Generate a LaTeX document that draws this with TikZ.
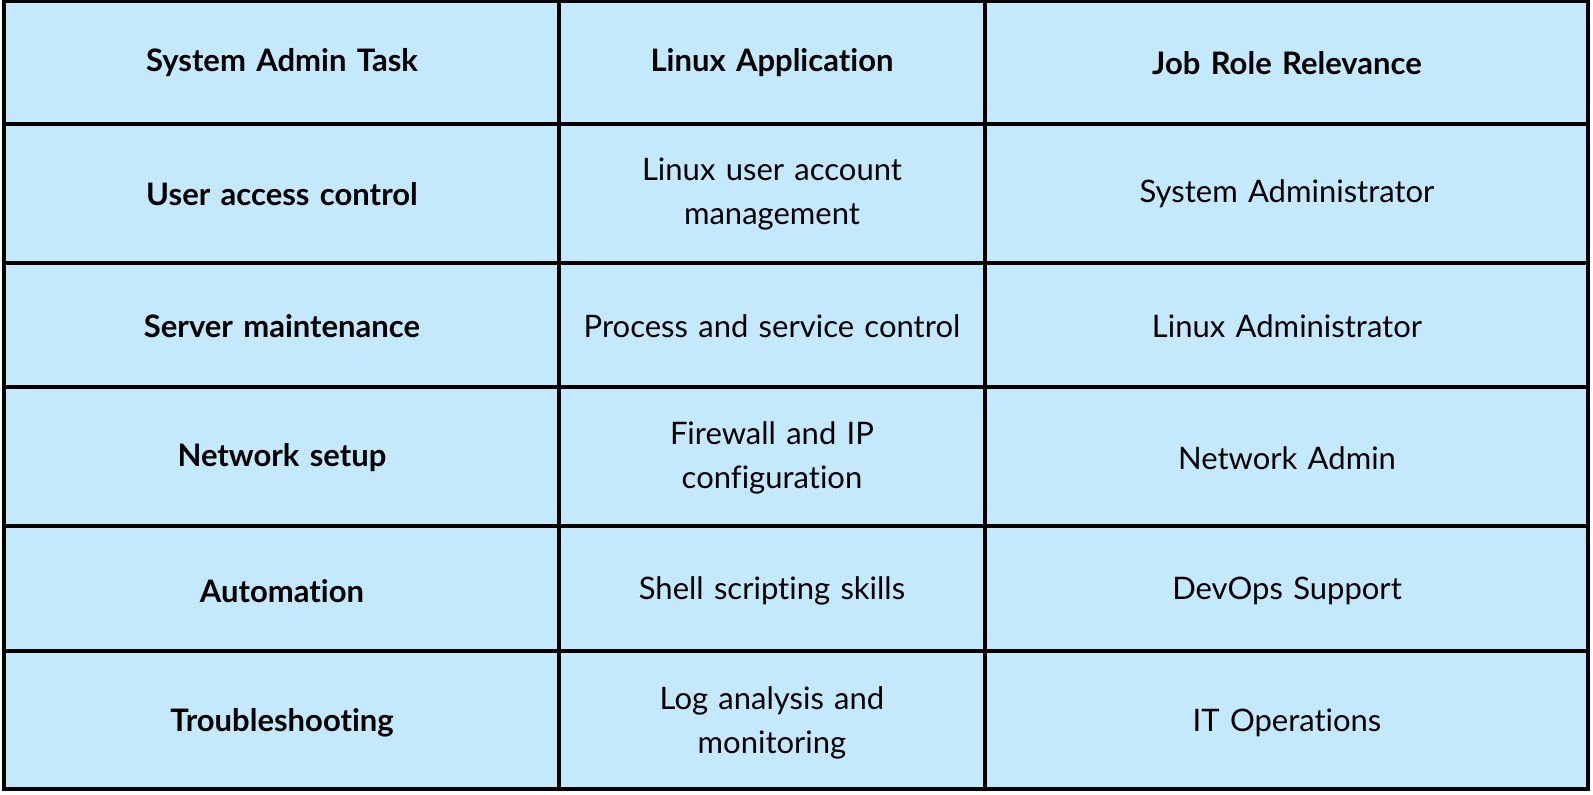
\documentclass[tikz,border=0pt]{standalone}
\usepackage{fontspec}
\setmainfont{Lato}[Ligatures={NoCommon}]
\definecolor{cellbg}{HTML}{C4E8FC}
\begin{document}
\begin{tikzpicture}[x=1pt,y=-1pt,
  cell/.style={font=\fontsize{31}{44}\selectfont, align=center, text width=400pt},
  hd/.style={cell, font=\fontsize{31}{44}\selectfont\bfseries}]
\useasboundingbox (0,0) rectangle (1593,795);
\fill[cellbg] (4,1) rectangle (1588,789);
\foreach \y in {124,263,387,526,651} \draw[line width=3.5pt] (4,\y) -- (1588,\y);
\foreach \x in {559,985} \draw[line width=3.5pt] (\x,1) -- (\x,789);
\draw[line width=3.5pt] (4,1) rectangle (1588,789);
\def\xa{282}\def\xb{772}\def\xc{1287}
\node[hd] (h1) at (\xa,63) {System Admin Task};
\node[hd] (h2) at (\xb,63) {Linux Application};
\node[hd] (h3) at (\xc,63) {Job Role Relevance};
\node[hd] (a1) at (\xa,194) {User access control};
\node[cell] (b1) at (\xb,194) {Linux user account\\management};
\node[cell] (c1) at (\xc,194) {System Administrator};
\node[hd] (a2) at (\xa,326) {Server maintenance};
\node[cell] (b2) at (\xb,326) {Process and service control};
\node[cell] (c2) at (\xc,326) {Linux Administrator};
\node[hd] (a3) at (\xa,458) {Network setup};
\node[cell] (b3) at (\xb,458) {Firewall and IP\\configuration};
\node[cell] (c3) at (\xc,458) {Network Admin};
\node[hd] (a4) at (\xa,591) {Automation};
\node[cell] (b4) at (\xb,591) {Shell scripting skills};
\node[cell] (c4) at (\xc,591) {DevOps Support};
\node[hd] (a5) at (\xa,723) {Troubleshooting};
\node[cell] (b5) at (\xb,723) {Log analysis and\\monitoring};
\node[cell] (c5) at (\xc,723) {IT Operations};
\end{tikzpicture}
\end{document}
